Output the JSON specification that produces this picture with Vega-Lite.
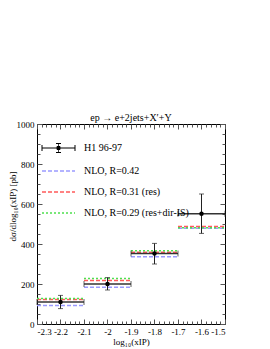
{
  "$schema": "https://vega.github.io/schema/vega-lite/v6.json",
  "width": 188,
  "height": 200,
  "autosize": {"type": "none"},
  "padding": {"left": 37, "top": 124, "right": 45, "bottom": 25},
  "background": "white",
  "title": {"text": "ep → e+2jets+X′+Y", "font": "Liberation Serif", "fontSize": 10, "fontWeight": "normal", "color": "black", "offset": -3},
  "datasets": {
    "h1": [
      {"series": "H1 96-97", "x": -2.2, "xlo": -2.3, "xhi": -2.1, "y": 110, "ylo": 77, "yhi": 143},
      {"series": "H1 96-97", "x": -2.0, "xlo": -2.1, "xhi": -1.9, "y": 200, "ylo": 170, "yhi": 232},
      {"series": "H1 96-97", "x": -1.8, "xlo": -1.9, "xhi": -1.7, "y": 352, "ylo": 300, "yhi": 403},
      {"series": "H1 96-97", "x": -1.6, "xlo": -1.7, "xhi": -1.5, "y": 551, "ylo": 453, "yhi": 650}
    ],
    "nlo": [
      {"series": "NLO, R=0.42", "xlo": -2.3, "xhi": -2.1, "value": 93},
      {"series": "NLO, R=0.42", "xlo": -2.1, "xhi": -1.9, "value": 184},
      {"series": "NLO, R=0.42", "xlo": -1.9, "xhi": -1.7, "value": 336},
      {"series": "NLO, R=0.42", "xlo": -1.7, "xhi": -1.5, "value": 479},
      {"series": "NLO, R=0.31 (res)", "xlo": -2.3, "xhi": -2.1, "value": 122},
      {"series": "NLO, R=0.31 (res)", "xlo": -2.1, "xhi": -1.9, "value": 217},
      {"series": "NLO, R=0.31 (res)", "xlo": -1.9, "xhi": -1.7, "value": 359},
      {"series": "NLO, R=0.31 (res)", "xlo": -1.7, "xhi": -1.5, "value": 487},
      {"series": "NLO, R=0.29 (res+dir-IS)", "xlo": -2.3, "xhi": -2.1, "value": 127},
      {"series": "NLO, R=0.29 (res+dir-IS)", "xlo": -2.1, "xhi": -1.9, "value": 227},
      {"series": "NLO, R=0.29 (res+dir-IS)", "xlo": -1.9, "xhi": -1.7, "value": 366},
      {"series": "NLO, R=0.29 (res+dir-IS)", "xlo": -1.7, "xhi": -1.5, "value": 481}
    ]
  },
  "resolve": {"axis": {"x": "independent", "y": "independent"}, "scale": {"x": "independent", "y": "independent"}},
  "layer": [
    {
      "data": {"name": "nlo"},
      "mark": {"type": "rule", "strokeWidth": 1.5},
      "encoding": {
        "x": {"field": "xlo", "type": "quantitative", "scale": {"domain": [-2.3, -1.5], "nice": false, "zero": false},
              "axis": {"orient": "bottom", "values": [-2.3, -2.2, -2.1, -2.0, -1.9, -1.8, -1.7, -1.6, -1.5], "tickSize": -5, "labelPadding": 8, "labelExpr": "'' + datum.value", "title": "log₁₀(xIP)", "titlePadding": 1}},
        "x2": {"field": "xhi"},
        "y": {"field": "value", "type": "quantitative", "scale": {"domain": [0, 1000], "nice": false},
              "axis": {"orient": "left", "values": [0, 200, 400, 600, 800, 1000], "tickSize": -5, "labelPadding": 8, "labelExpr": "'' + datum.value", "title": "dσ/dlog₁₀(xIP)  [pb]", "titleX": -25, "titleY": 82, "titleBaseline": "middle", "titleAngle": 270}},
        "color": {"field": "series", "type": "nominal",
                  "scale": {"domain": ["H1 96-97", "NLO, R=0.42", "NLO, R=0.31 (res)", "NLO, R=0.29 (res+dir-IS)"], "range": ["#000000", "#9a9aff", "#ff5a5a", "#4ee04e"]},
                  "legend": {"title": null, "orient": "none", "legendX": 16.5, "legendY": 19, "padding": 0,
                             "symbolType": "M-1.65,0L1.65,0", "symbolSize": 400, "symbolStrokeWidth": 1.5, "symbolFillColor": "transparent",
                             "labelFont": "Liberation Serif", "labelFontSize": 10, "labelColor": "black", "labelOffset": 20.5, "rowPadding": 11,
                             "encode": {"symbols": {"update": {
                               "shape": {"signal": "datum.value === 'H1 96-97' ? 'M-1.65,0L1.65,0M-1.65,-0.3L-1.65,0.3M1.65,-0.3L1.65,0.3M-0.25,-0.45L0.25,-0.45M0,-0.45L0,0.45M-0.25,0.45L0.25,0.45M-0.15,-0.15L0.15,-0.15L0.15,0.15L-0.15,0.15Z' : 'M-1.65,0L1.65,0'"},
                               "fill": {"signal": "datum.value === 'H1 96-97' ? 'black' : 'transparent'"},
                               "strokeWidth": {"signal": "datum.value === 'H1 96-97' ? 1 : 1.5"}
                             }}}}},
        "strokeDash": {"field": "series", "type": "nominal",
                  "scale": {"domain": ["H1 96-97", "NLO, R=0.42", "NLO, R=0.31 (res)", "NLO, R=0.29 (res+dir-IS)"], "range": [[1, 0], [4, 2], [4, 2], [2, 2]]}}
      }
    },
    {
      "data": {"name": "h1"},
      "mark": {"type": "rule", "strokeWidth": 1.5, "color": "#333333"},
      "encoding": {
        "x": {"field": "xlo", "type": "quantitative", "scale": {"domain": [-2.3, -1.5], "nice": false, "zero": false},
              "axis": {"orient": "bottom", "values": [-2.28, -2.26, -2.24, -2.22, -2.18, -2.16, -2.14, -2.12, -2.08, -2.06, -2.04, -2.02, -1.98, -1.96, -1.94, -1.92, -1.88, -1.86, -1.84, -1.82, -1.78, -1.76, -1.74, -1.72, -1.68, -1.66, -1.64, -1.62, -1.58, -1.56, -1.54, -1.52], "tickSize": -3, "labels": false, "title": null}},
        "x2": {"field": "xhi"},
        "y": {"field": "y", "type": "quantitative", "scale": {"domain": [0, 1000], "nice": false},
              "axis": {"orient": "left", "values": [50, 100, 150, 250, 300, 350, 450, 500, 550, 650, 700, 750, 850, 900, 950], "tickSize": -3, "labels": false, "title": null}}
      }
    },
    {
      "data": {"name": "h1"},
      "mark": {"type": "rule", "strokeWidth": 1, "color": "#222222"},
      "encoding": {
        "x": {"field": "x", "type": "quantitative", "scale": {"domain": [-2.3, -1.5], "nice": false, "zero": false},
              "axis": {"orient": "top", "values": [-2.3, -2.2, -2.1, -2.0, -1.9, -1.8, -1.7, -1.6, -1.5], "tickSize": -5, "labels": false, "title": null}},
        "y": {"field": "ylo", "type": "quantitative", "scale": {"domain": [0, 1000], "nice": false},
              "axis": {"orient": "right", "values": [0, 200, 400, 600, 800, 1000], "tickSize": -5, "labels": false, "title": null}},
        "y2": {"field": "yhi"}
      }
    },
    {
      "data": {"name": "h1"},
      "mark": {"type": "tick", "orient": "horizontal", "size": 5, "thickness": 1, "color": "#222222"},
      "encoding": {
        "x": {"field": "x", "type": "quantitative", "scale": {"domain": [-2.3, -1.5], "nice": false, "zero": false},
              "axis": {"orient": "top", "values": [-2.28, -2.26, -2.24, -2.22, -2.18, -2.16, -2.14, -2.12, -2.08, -2.06, -2.04, -2.02, -1.98, -1.96, -1.94, -1.92, -1.88, -1.86, -1.84, -1.82, -1.78, -1.76, -1.74, -1.72, -1.68, -1.66, -1.64, -1.62, -1.58, -1.56, -1.54, -1.52], "tickSize": -3, "labels": false, "title": null}},
        "y": {"field": "ylo", "type": "quantitative", "scale": {"domain": [0, 1000], "nice": false},
              "axis": {"orient": "right", "values": [50, 100, 150, 250, 300, 350, 450, 500, 550, 650, 700, 750, 850, 900, 950], "tickSize": -3, "labels": false, "title": null}}
      }
    },
    {
      "data": {"name": "h1"},
      "mark": {"type": "tick", "orient": "horizontal", "size": 5, "thickness": 1, "color": "#222222"},
      "encoding": {
        "x": {"field": "x", "type": "quantitative", "scale": {"domain": [-2.3, -1.5], "nice": false, "zero": false}, "axis": null},
        "y": {"field": "yhi", "type": "quantitative", "scale": {"domain": [0, 1000], "nice": false}, "axis": null}
      }
    },
    {
      "data": {"name": "h1"},
      "mark": {"type": "tick", "orient": "vertical", "size": 6, "thickness": 1, "color": "#222222"},
      "encoding": {
        "x": {"field": "xlo", "type": "quantitative", "scale": {"domain": [-2.3, -1.5], "nice": false, "zero": false}, "axis": null},
        "y": {"field": "y", "type": "quantitative", "scale": {"domain": [0, 1000], "nice": false}, "axis": null}
      }
    },
    {
      "data": {"name": "h1"},
      "mark": {"type": "tick", "orient": "vertical", "size": 6, "thickness": 1, "color": "#222222"},
      "encoding": {
        "x": {"field": "xhi", "type": "quantitative", "scale": {"domain": [-2.3, -1.5], "nice": false, "zero": false}, "axis": null},
        "y": {"field": "y", "type": "quantitative", "scale": {"domain": [0, 1000], "nice": false}, "axis": null}
      }
    },
    {
      "data": {"name": "h1"},
      "mark": {"type": "point", "shape": "circle", "filled": true, "size": 20, "color": "black", "opacity": 1},
      "encoding": {
        "x": {"field": "x", "type": "quantitative", "scale": {"domain": [-2.3, -1.5], "nice": false, "zero": false}, "axis": null},
        "y": {"field": "y", "type": "quantitative", "scale": {"domain": [0, 1000], "nice": false}, "axis": null}
      }
    }
  ],
  "config": {
    "view": {"stroke": "black", "strokeWidth": 1},
    "axis": {"domain": false, "grid": false, "labelFont": "Liberation Serif", "labelFontSize": 9, "labelColor": "black", "titleFont": "Liberation Serif", "titleFontSize": 9, "titleFontWeight": "normal", "titleColor": "black", "tickColor": "#555555"}
  }
}
